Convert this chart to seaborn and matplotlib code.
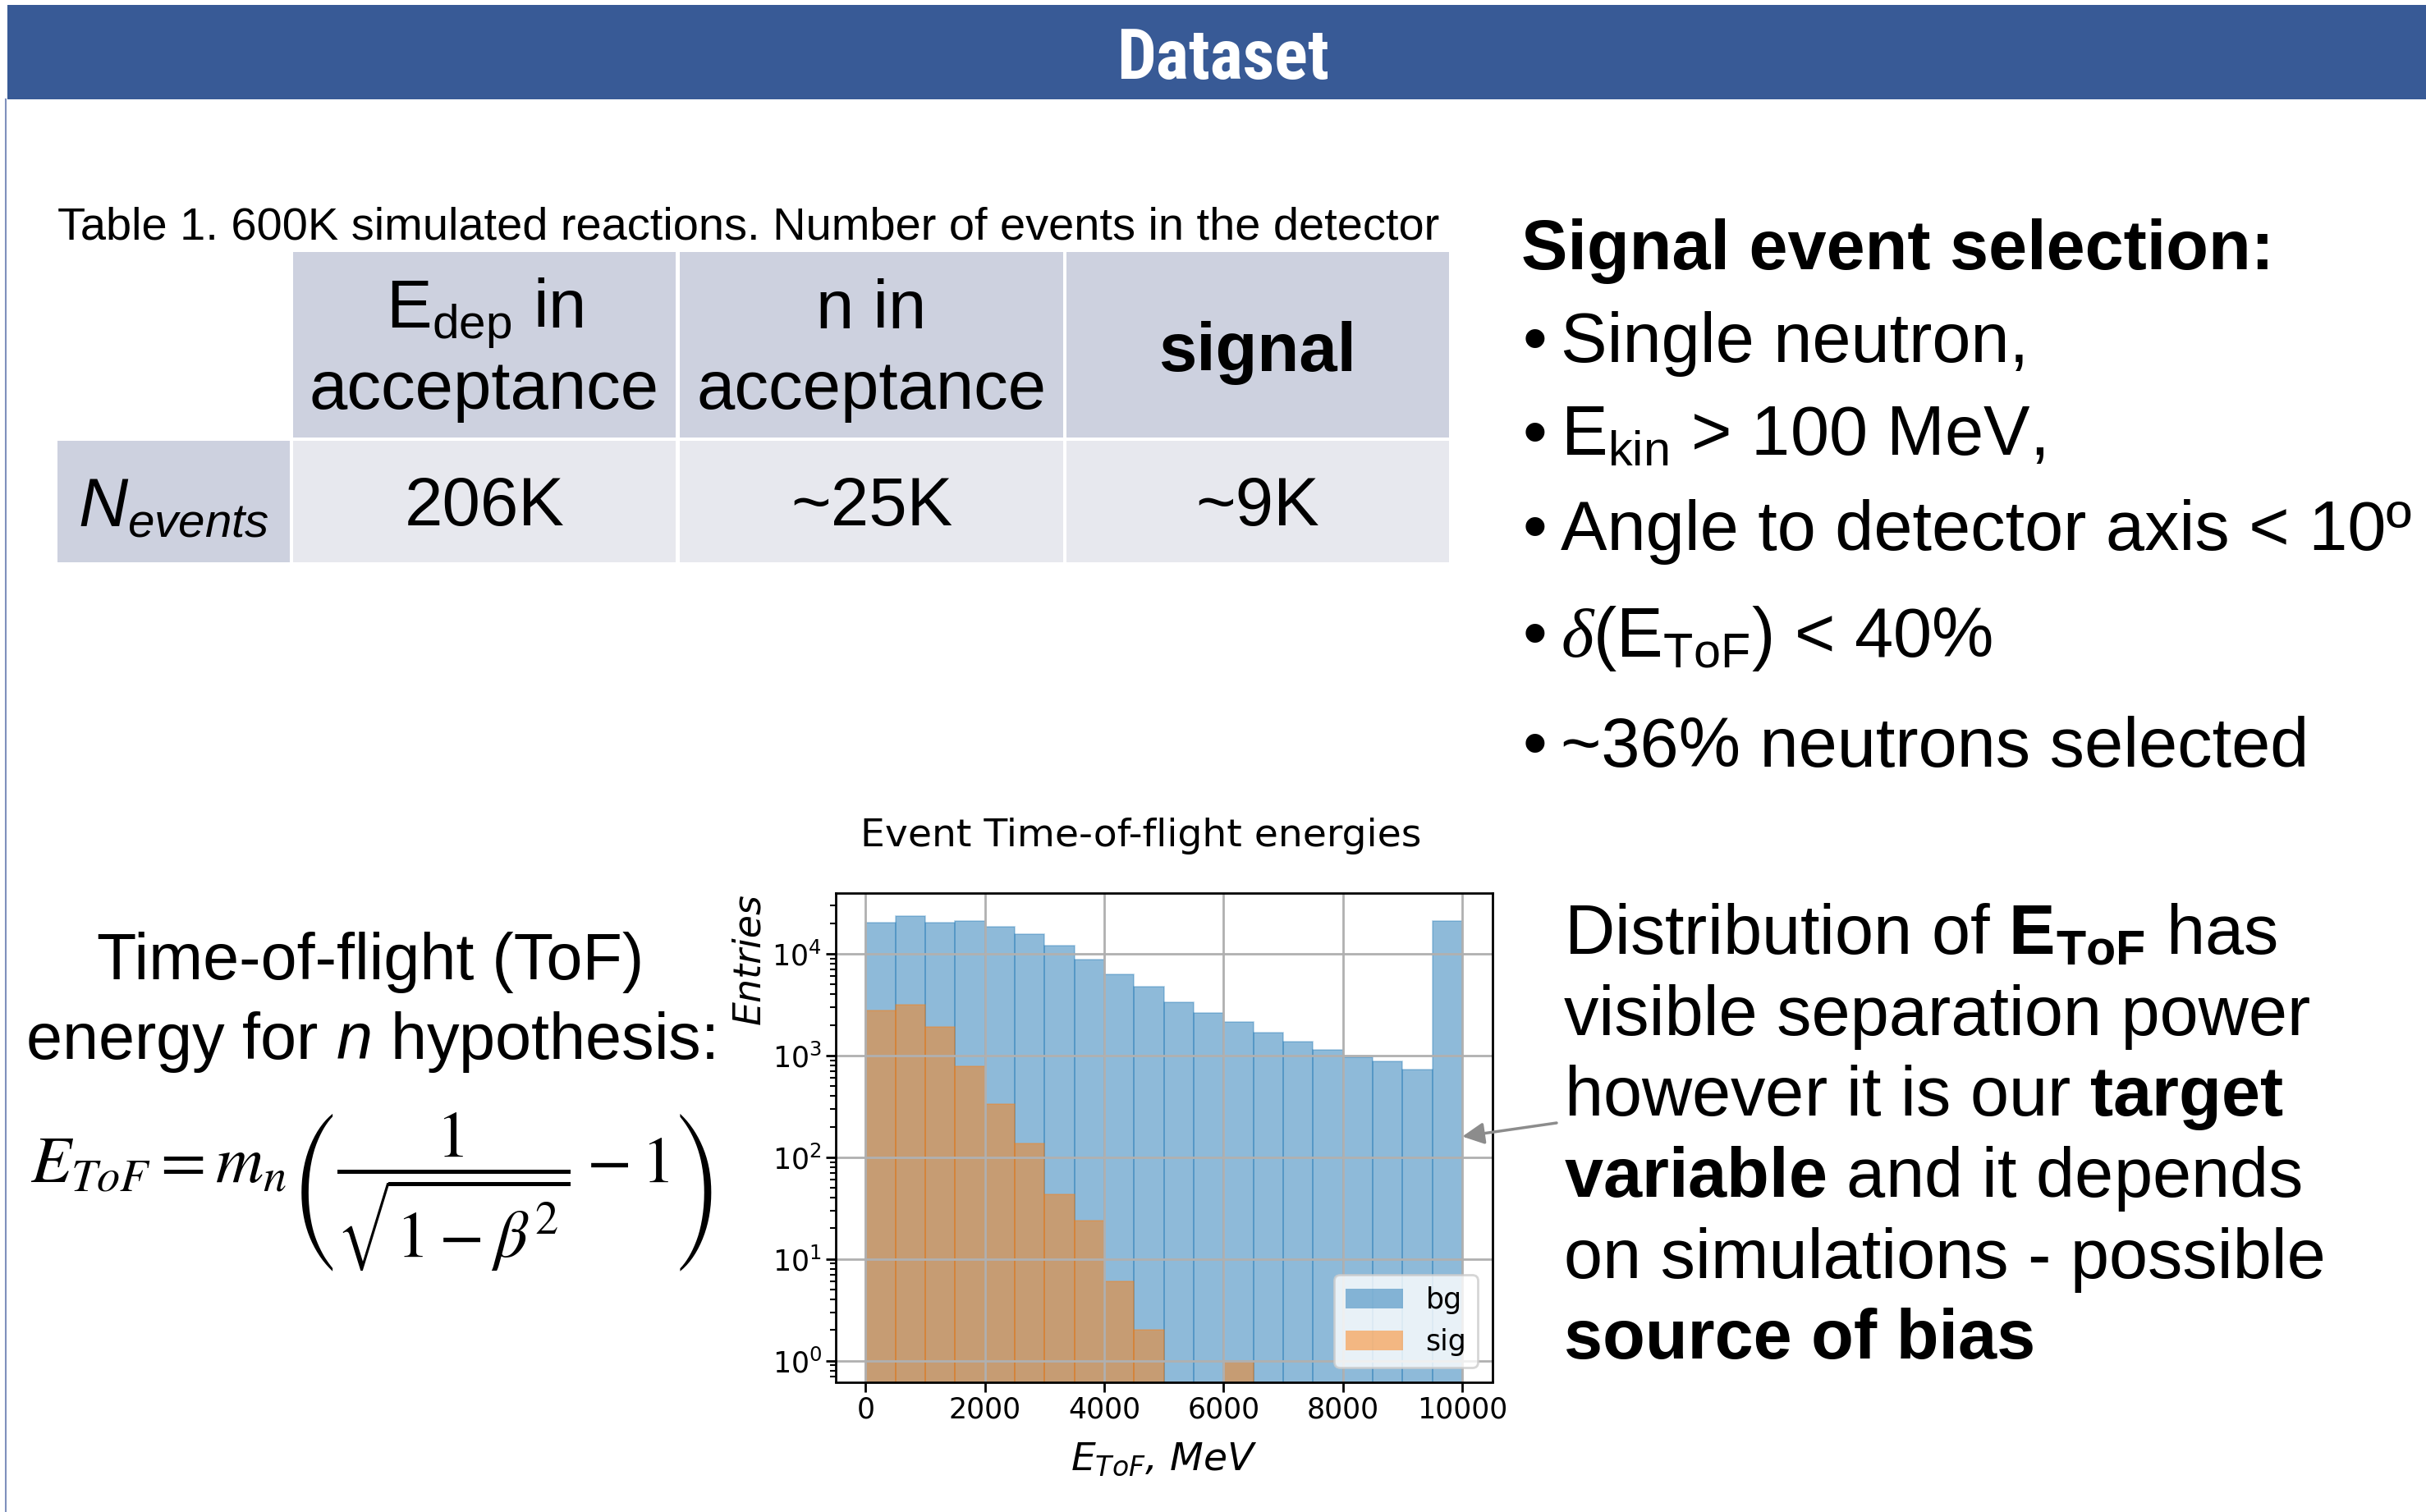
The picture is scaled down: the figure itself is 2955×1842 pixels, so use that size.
import matplotlib
matplotlib.use("Agg")
import matplotlib.pyplot as plt
import matplotlib.font_manager as fm
from matplotlib.patches import Rectangle, Patch
from matplotlib.lines import Line2D
from matplotlib.colors import to_rgba
import pandas as pd
import seaborn as sns

# E_ToF histogram, 500 MeV bins, counts
bin_edges = list(range(0, 10500, 500))
bg_counts = [20100, 23600, 20300, 21100, 18500, 15700, 12100, 8770, 6290, 4730,
             3320, 2640, 2130, 1670, 1370, 1130, 960, 877, 724, 21100]
sig_counts = [2770, 3160, 1910, 785, 333, 136, 43, 24, 6, 2,
              0, 0, 1, 0, 0, 0, 0, 0, 0, 0]

# table 1
col_line1 = [r"$\mathrm{E}_{\mathrm{dep}}$ in", "n in"]
col_line2 = ["acceptance", "acceptance"]
n_events = ["206K", "~25K", "~9K"]

selection = ["Single neutron,",
             r"$\mathrm{E}_{\mathrm{kin}}$ > 100 MeV,",
             "Angle to detector axis < 10º",
             r"$\mathsf{\delta}$($\mathrm{E}_{\mathrm{ToF}}$) < 40%",
             "~36% neutrons selected"]

comment = [r"Distribution of $\mathbf{E}_{\mathbf{ToF}}$ has",
           "visible separation power",
           r"however it is our $\mathbf{target}$",
           r"$\mathbf{variable}$ and it depends",
           "on simulations - possible",
           "source of bias"]

plt.rcParams["mathtext.rm"] = "Liberation Sans"
plt.rcParams["mathtext.it"] = "Liberation Sans:italic"
plt.rcParams["mathtext.bf"] = "Liberation Sans:bold"
plt.rcParams["mathtext.sf"] = "Liberation Serif:italic"

# narrow bold face for the slide header, if one is around
names = {f.name for f in fm.fontManager.ttflist}
title_font, title_size = "Liberation Sans", 56
for cand in ["Liberation Sans Narrow", "Arial Narrow", "Roboto Condensed", "Open Sans Condensed"]:
    if cand in names:
        title_font, title_size = cand, 61
        break

W, H = 2955, 1842
fig = plt.figure(figsize=(W / 100, H / 100), dpi=100)


def box(x0, y0, x1, y1, color):
    fig.add_artist(Rectangle((x0 / W, 1 - y1 / H), (x1 - x0) / W, (y1 - y0) / H,
                             transform=fig.transFigure, facecolor=color, edgecolor="none"))


def txt(x, y, s, size=61, **kw):
    kw.setdefault("family", "Liberation Sans")
    kw.setdefault("va", "baseline")
    fig.text(x / W, 1 - y / H, s, fontsize=size, math_fontfamily="custom", **kw)


# header bar and slide border
box(9, 6, W, 121, "#385A96")
fig.add_artist(Line2D([7 / W, 7 / W], [0, 1 - 121 / H], transform=fig.transFigure,
                      color="#7f90bd", lw=1.5))
txt(1490, 96, "Dataset", size=title_size, color="white", weight="bold", ha="center",
    family=title_font)

# table
txt(70, 292, "Table 1. 600K simulated reactions. Number of events in the detector", size=40.3)
cols = [(357, 823), (828, 1295), (1299, 1765)]
for x0, x1 in cols:
    box(x0, 307, x1, 533, "#CDD1DF")
    box(x0, 537, x1, 685, "#E7E8EE")
box(70, 537, 353, 685, "#CDD1DF")
for (x0, x1), l1, l2 in zip(cols[:2], col_line1, col_line2):
    cx = (x0 + x1) / 2
    txt(cx, 400, l1, size=60, ha="center")
    txt(cx, 498, l2, size=60, ha="center")
txt(sum(cols[2]) / 2, 452, "signal", size=60, ha="center", weight="bold")
for (x0, x1), v in zip(cols, n_events):
    txt((x0 + x1) / 2, 640, v, size=60, ha="center")
txt(211, 641, r"$\mathit{N}_{\mathit{events}}$", size=60, ha="center")

# selection list
txt(1853, 328, "Signal event selection:", weight="bold")
for yb, s in zip([441, 555, 670, 800, 934], selection):
    txt(1855, yb, "•")
    txt(1901, yb, s)

# ToF formula block
txt(451, 1193, "Time-of-flight (ToF)", size=57, ha="center")
txt(451, 1290, r"energy for $\mathit{n}$ hypothesis:", size=57, ha="center")
fig.text(452 / W, 1 - 1452 / H,
         r"$E_{ToF} = m_n\left(\dfrac{1}{\sqrt{1-\beta^2}} - 1\right)$",
         fontsize=58, math_fontfamily="stix", ha="center", va="center")

# comment block
for i, (yb, s) in enumerate(zip([1162, 1261, 1359, 1458, 1557, 1655], comment)):
    txt(1905, yb, s, weight="bold" if i == 5 else "normal")

# histogram
centers = [(a + b) / 2 for a, b in zip(bin_edges[:-1], bin_edges[1:])]
hist_df = pd.DataFrame({"E_tof": centers * 2,
                        "entries": bg_counts + sig_counts,
                        "sample": ["bg"] * len(centers) + ["sig"] * len(centers)})

ax = fig.add_axes([1018 / W, 1 - 1683.5 / H, 799.5 / W, 595.5 / H])
for name, col in [("bg", "C0"), ("sig", "C1")]:
    sns.histplot(data=hist_df[hist_df["sample"] == name], x="E_tof", weights="entries",
                 bins=bin_edges, color=col, alpha=0.5, edgecolor=to_rgba(col, 0.35),
                 linewidth=1.2, ax=ax)
ax.set_yscale("log")
ax.set_xlim(-500, 10500)
ax.set_ylim(0.62, 39500)
ax.set_xticks(range(0, 10001, 2000))
ax.grid(True, color="#b0b0b0", lw=2)
ax.tick_params(which="major", labelsize=25, length=8.75, width=2)
ax.tick_params(which="minor", length=5, width=1.5)
for sp in ax.spines.values():
    sp.set_linewidth(2)
ax.set_ylabel("Entries", loc="top", fontsize=33, fontstyle="italic", labelpad=4)
ax.set_xlabel(r"$E_{ToF}$, MeV", fontsize=34, fontstyle="italic", labelpad=15)
handles = [Patch(facecolor=to_rgba("C0", 0.5), label="bg"),
           Patch(facecolor=to_rgba("C1", 0.5), label="sig")]
leg = ax.legend(handles=handles, loc="lower right", fontsize=25)
leg.get_frame().set_linewidth(2)
fig.text(1390 / W, 1 - 1031 / H, "Event Time-of-flight energies", fontsize=34,
         ha="center", va="baseline")

ax.annotate("", xy=(10000, 160), xycoords="data",
            xytext=(1896 / W, 1 - 1368 / H), textcoords="figure fraction",
            arrowprops=dict(arrowstyle="-|>", color="#8c8c8c", lw=2.5,
                            mutation_scale=40, shrinkA=0, shrinkB=0),
            annotation_clip=False)

fig.savefig("out.png", dpi=100)
